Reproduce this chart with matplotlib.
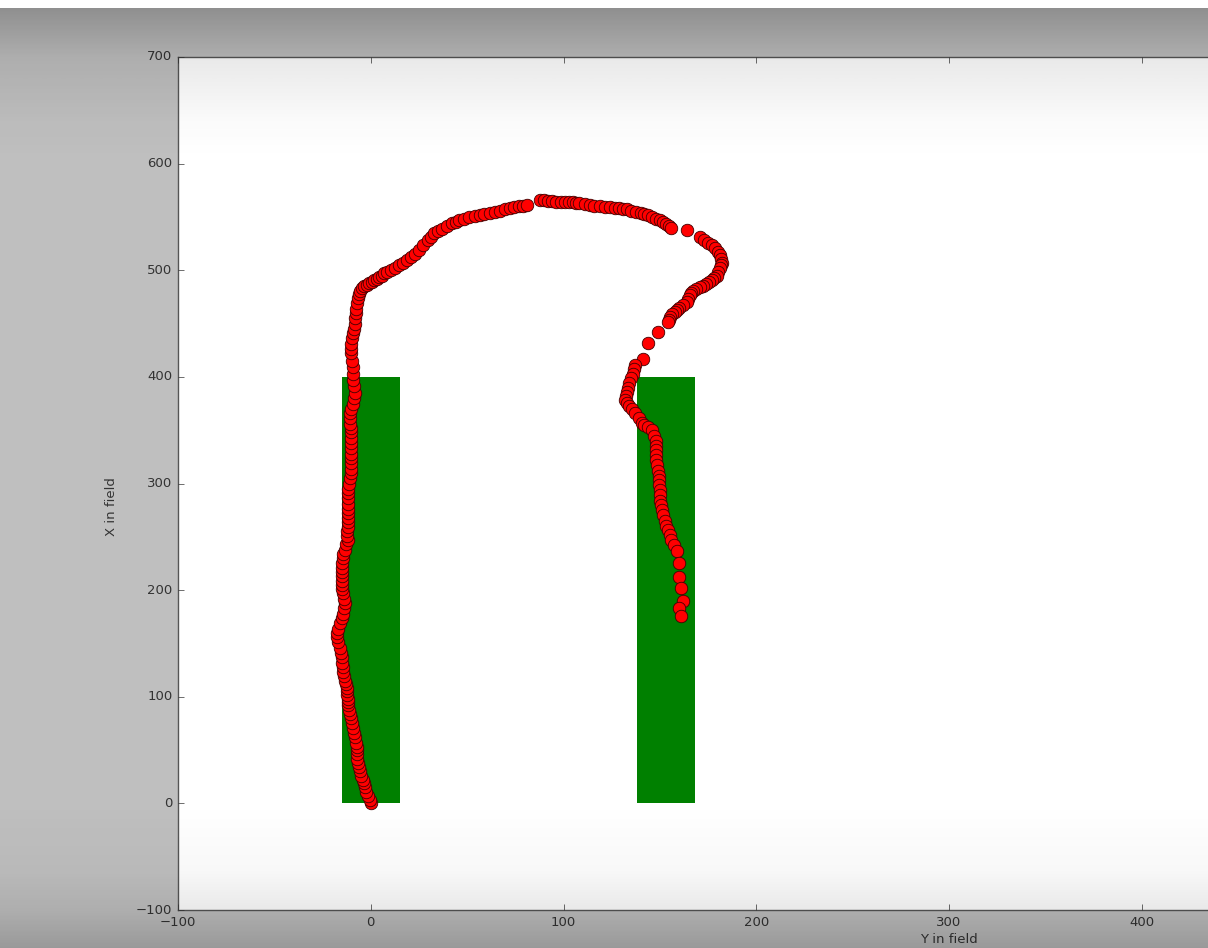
import numpy as np
import matplotlib
matplotlib.use('Agg')
import matplotlib.pyplot as plt
from matplotlib.patches import Rectangle

# robot path in the field, split in legs (Y across, X along the field)
leg1_y = [0, -0.5, -1.5, -2.3, -3, -3.5, -4, -5, -5.5, -6, -6.5, -7, -7, -7, -7, -7.5,
          -8, -8.5, -9, -9.5, -10, -10.7, -11.3, -12, -12, -12, -12.3, -12.5, -12.5, -13, -13.5]
leg1_x = [0, 3, 7, 11, 15, 19, 22, 26, 30, 34, 38, 42, 46, 50, 53, 57,
          62, 66, 71, 75, 80, 84, 88, 92, 95, 98, 102, 105, 108, 112, 115]

leg2_y = [-14, -14.3, -14.5, -14.8, -15, -15.5, -16, -16.8, -17.5, -17.3, -17, -16, -15, -14.5, -14,
          -13.5, -14, -14.5, -14.8, -15, -15, -15, -15, -15, -14.8, -14.6, -14.5, -13.5, -12.8, -12]
leg2_x = [119, 123, 128, 132, 137, 141, 146, 151, 156, 160, 164, 169, 174, 178, 183,
          188, 192, 197, 201, 205, 209, 213, 217, 221, 225, 230, 234, 238, 243, 247]

leg3_y = [-12.3, -12.3, -12, -12, -12, -12, -12, -12, -12, -12, -11.7, -11.4, -10.9, -10.4, -10.2, -10,
          -10, -10, -10, -10, -10, -10, -10.5, -11, -11, -11, -10.2, -9.3, -8.8, -8.3, -8.8, -9.3]
leg3_x = [251, 255, 259, 264, 268, 272, 276, 281, 286, 291, 295, 300, 305, 310, 314, 319,
          324, 328, 333, 338, 343, 348, 352, 356, 361, 366, 370, 375, 380, 385, 391, 397]

leg4_y = [-9.3, -9.3, -9.6, -10, -10.2, -10.4, -9.8, -9.3, -8.8, -8.3, -8, -7.8, -7.5, -7.3,
          -6.8, -6.2, -5.5, -4.7, -3.3, -2, -0.8, 0.5, 1.8, 3, 4.3, 5.7, 7, 8.3]
leg4_x = [403, 409, 415, 422, 426, 431, 436, 441, 445, 450, 455, 460, 464, 469,
          474, 478, 481, 483, 485, 486, 488, 489, 491, 492, 494, 495, 497, 498]

arc_y = [10.5, 12.5, 14.5, 16.6, 19, 21, 23, 25, 27, 29.6, 31.5, 33, 35, 37, 39.5, 42,
         44, 46, 48.5, 51, 54, 56.6, 59, 62, 64.5, 67, 69.5, 72, 74.5, 77, 79, 81,
         88, 90, 92, 94, 96, 98.5, 100.7, 103, 105, 106.5, 108, 111, 113.6, 116, 119,
         121.5, 124, 126.5, 129, 131, 133, 135, 137.5, 140, 142, 144, 146, 148, 150,
         151.5, 153, 154.5, 156]
arc_x = [500, 502, 504.5, 507, 509.5, 512, 515.5, 519, 523.5, 528, 531.5, 535, 537, 539, 541.5, 544,
         545.5, 547, 548.5, 550, 551, 552, 553, 554, 555, 556, 557, 558, 559, 560, 560.5, 561,
         566, 565.5, 565, 564.5, 564, 564, 564, 564, 564, 563.5, 563, 562, 561, 560.5, 560,
         559.5, 559, 558.5, 558, 557.5, 557, 556, 555, 554, 553, 551.5, 550, 548.5, 547,
         545, 543, 541.5, 540]

hook_y = [164, 171, 173, 175, 177, 178.5, 180, 181, 181.5, 182, 181.5, 181, 180.3, 179.5, 178.3,
          177, 175.5, 174, 172.5, 171, 169, 167, 166, 165.5, 164.8, 164, 162, 160, 158.8, 157.7,
          156.3, 155, 154.5, 154]
hook_x = [538, 531, 528.5, 526, 523.5, 521, 517.5, 514, 510.5, 507, 504.5, 502, 498.5, 495, 493,
          491, 489, 487, 485.5, 484, 482.5, 481, 479, 477, 473.5, 470, 467.5, 465, 463, 461,
          458.5, 456, 453.5, 451]

leg5_y = [149, 144, 141, 137, 136.5, 136, 135, 134, 133.5, 133, 132.5, 132, 133, 134, 135.5,
          137, 139, 140.6, 142, 143.6, 146, 147, 148, 148, 148, 148, 148, 148.5, 149, 149.3,
          149.5, 149.8, 150, 150, 150, 150.5, 151, 151.8, 152.6, 153.3, 154, 155, 156, 157.5,
          159, 160, 160, 161, 162, 160, 161]
leg5_x = [442, 432, 417, 411, 407, 403, 398.5, 394, 390, 386, 382, 378, 375.5, 373, 369.5,
          366, 361.5, 357, 355, 353, 350, 345, 340, 335.5, 331, 326.5, 322, 317, 312, 307.5,
          303, 298.5, 294, 289, 284, 279.5, 275, 270, 265, 260.5, 256, 251.5, 247, 242,
          237, 225, 212, 202, 190, 183, 176]

path_y = np.concatenate([leg1_y, leg2_y, leg3_y, leg4_y, arc_y, hook_y, leg5_y])
path_x = np.concatenate([leg1_x, leg2_x, leg3_x, leg4_x, arc_x, hook_x, leg5_x])

# obstacle strips: left edge in Y, width, length in X
obstacle_left = [-15, 138]
obstacle_width = [30, 30]
obstacle_length = [400, 400]

plt.style.use('classic')
fig = plt.figure(figsize=(12.08, 9.48), dpi=100, facecolor='0.75')
# axes runs past the right edge of the window
ax = fig.add_axes([178 / 1208, 38 / 948, 1542 / 1208, 853 / 948])

for left, w, h in zip(obstacle_left, obstacle_width, obstacle_length):
    ax.add_patch(Rectangle((left, 0), w, h, facecolor=(0, 0.5, 0), edgecolor='none'))

ax.plot(path_y, path_x, 'o', color='red', markersize=9,
        markeredgecolor='#400000', markeredgewidth=0.6)

ax.set_xlim(-100, 700)
ax.set_ylim(-100, 700)
ax.set_xticks(np.arange(-100, 401, 100))
ax.set_yticks(np.arange(-100, 701, 100))
ax.tick_params(labelsize=9.5, colors='#333333')
ax.set_xlabel('Y in field', fontsize=9.5, color='#333333')
ax.set_ylabel('X in field', fontsize=9.5, color='#333333')
ax.xaxis.set_label_coords(0.5, -0.027)
ax.yaxis.set_label_coords(-0.039, 0.4725)
for s in ax.spines.values():
    s.set_color('#555555')

# darkening toward top and bottom of the window
overlay = fig.add_axes([0, 0, 1, 1], zorder=10)
overlay.axis('off')
rows = np.arange(948)
shade = np.interp(rows, [0, 8, 57, 120, 160, 800, 870, 910, 948],
                  [0.0, 0.25, 0.09, 0.02, 0.0, 0.0, 0.03, 0.09, 0.2])
rgba = np.zeros((948, 1, 4))
rgba[:, 0, 3] = shade
overlay.imshow(rgba, aspect='auto', extent=[0, 1, 0, 1], origin='upper')
overlay.add_patch(Rectangle((0, 1 - 8 / 948), 1, 8 / 948, transform=overlay.transAxes,
                            facecolor='white', edgecolor='none', zorder=11))
overlay.set_xlim(0, 1)
overlay.set_ylim(0, 1)

fig.savefig('out.png', dpi=100, facecolor=fig.get_facecolor())
